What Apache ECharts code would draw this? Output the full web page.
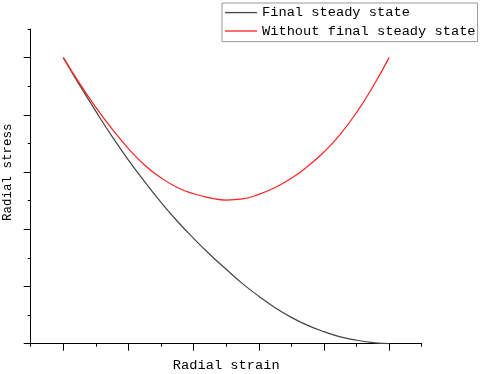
<!DOCTYPE html>
<html>
<head>
<meta charset="utf-8">
<script src="https://cdn.jsdelivr.net/npm/echarts@6/dist/echarts.min.js"></script>
<style>
  html, body { margin: 0; padding: 0; background: #fff; }
  #main { width: 484px; height: 374px; }
</style>
</head>
<body>
<div id="main"></div>
<script>
// strain positions (arbitrary units, axis has no labels)
var strain = [0, 0.25, 0.5, 0.75, 1, 1.25, 1.5, 1.75, 2, 2.25, 2.5, 2.75, 3,
              3.25, 3.5, 3.75, 4, 4.25, 4.5, 4.75, 5];
var finalSteady = [5.0, 4.52, 4.06, 3.62, 3.21, 2.83, 2.47, 2.14, 1.84, 1.56, 1.30,
                   1.05, 0.83, 0.63, 0.46, 0.32, 0.21, 0.12, 0.06, 0.02, 0];
var withoutSteady = [5.0, 4.55, 4.13, 3.75, 3.41, 3.12, 2.90, 2.73, 2.62, 2.55, 2.51,
                     2.53, 2.61, 2.73, 2.89, 3.10, 3.35, 3.66, 4.04, 4.49, 5.0];
var majorTicks = [0, 1, 2, 3, 4, 5];
var seriesNames = ['Final steady state', 'Without final steady state'];

function pairs(xs, ys) {
  return xs.map(function (x, i) { return [x, ys[i]]; });
}

var FONT = 'Liberation Mono';
var chart = echarts.init(document.getElementById('main'));
var option = {
  animation: false,
  backgroundColor: '#fff',
  grid: { left: 30.7, right: 62.3, top: 29, bottom: 30.3, containLabel: false, outerBoundsMode: 'none' },
  legend: {
    data: seriesNames,
    orient: 'vertical',
    left: 222,
    top: 3,
    padding: [2.6, 2, 3.6, 3],
    icon: 'rect',
    itemWidth: 32,
    itemHeight: 1.3,
    itemGap: 4.4,
    borderColor: '#999',
    borderWidth: 1,
    textStyle: { fontFamily: FONT, fontSize: 13.7, color: '#000', lineHeight: 14 }
  },
  xAxis: [{
    type: 'value',
    min: -0.5, max: 5.5, interval: 0.5,
    name: 'Radial strain',
    nameLocation: 'middle',
    nameGap: 15,
    nameTextStyle: { fontFamily: FONT, fontSize: 13.7, color: '#000' },
    axisLine: { onZero: false, lineStyle: { color: '#000', width: 1 } },
    axisTick: { show: true, inside: false, length: 3, lineStyle: { color: '#000' } },
    axisLabel: { show: false },
    splitLine: { show: false }
  }, {
    type: 'value',
    min: -0.5, max: 5.5,
    position: 'bottom',
    axisLine: { show: false, onZero: false },
    axisTick: { show: true, inside: false, length: 7, customValues: majorTicks, lineStyle: { color: '#000' } },
    axisLabel: { show: false },
    splitLine: { show: false }
  }],
  yAxis: [{
    type: 'value',
    min: 0, max: 5.5, interval: 0.5,
    name: 'Radial stress',
    nameLocation: 'middle',
    nameGap: 17,
    nameTextStyle: { fontFamily: FONT, fontSize: 12.5, color: '#000', padding: [0, 0, 0, 28] },
    axisLine: { show: true, onZero: false, lineStyle: { color: '#000', width: 1 } },
    axisTick: { show: true, inside: false, length: 3, lineStyle: { color: '#000' } },
    axisLabel: { show: false },
    splitLine: { show: false }
  }, {
    type: 'value',
    min: 0, max: 5.5,
    position: 'left',
    axisLine: { show: false, onZero: false },
    axisTick: { show: true, inside: false, length: 7, customValues: majorTicks, lineStyle: { color: '#000' } },
    axisLabel: { show: false },
    splitLine: { show: false }
  }],
  series: [{
    name: seriesNames[0],
    type: 'line',
    smooth: true,
    symbol: 'none',
    data: pairs(strain, finalSteady),
    lineStyle: { color: '#444', width: 1.2 },
    itemStyle: { color: '#444' }
  }, {
    name: seriesNames[1],
    type: 'line',
    smooth: true,
    symbol: 'none',
    data: pairs(strain, withoutSteady),
    lineStyle: { color: '#ff2020', width: 1.2 },
    itemStyle: { color: '#ff2020' }
  }]
};
chart.setOption(option);
</script>
</body>
</html>
